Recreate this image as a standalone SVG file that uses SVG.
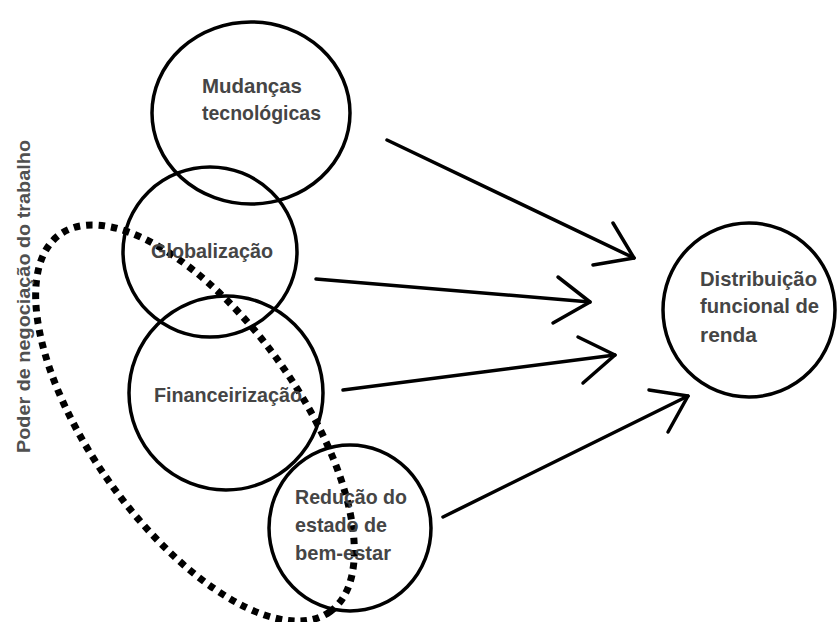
<svg xmlns="http://www.w3.org/2000/svg" width="837" height="622" viewBox="0 0 837 622">
<style>
.n{fill:none;stroke:#000;stroke-width:3.5}
.t{font-family:"Liberation Sans",Arial,sans-serif;font-weight:bold;font-size:21px;fill:#454545}
.c line,.c polyline{stroke:#000;stroke-width:3.5;fill:none;stroke-linecap:round;stroke-linejoin:round}
.dot{fill:none;stroke:#000;stroke-width:7;stroke-dasharray:6.5 6}
</style>
<rect width="837" height="622" fill="#fff"/>
<g id="bargaining">
<ellipse class="dot" cx="195" cy="423" rx="232" ry="104" transform="rotate(54.4 195 423)"/>
<text class="t" transform="translate(30 453) rotate(-90)" textLength="313" lengthAdjust="spacingAndGlyphs" style="font-size:19px;fill:#505050">Poder de negociação do trabalho</text>
</g>
<g id="mudancas">
<ellipse class="n" cx="251" cy="113" rx="99" ry="91"/>
<text class="t" x="202" y="93" textLength="100" lengthAdjust="spacingAndGlyphs">Mudanças</text>
<text class="t" x="202" y="120" textLength="119" lengthAdjust="spacingAndGlyphs">tecnológicas</text>
</g>
<g id="globalizacao">
<ellipse class="n" cx="210" cy="252" rx="87" ry="85"/>
<text class="t" x="151" y="258" textLength="122" lengthAdjust="spacingAndGlyphs">Globalização</text>
</g>
<g id="financeirizacao">
<ellipse class="n" cx="226" cy="393" rx="97" ry="97"/>
<text class="t" x="154" y="402" textLength="148" lengthAdjust="spacingAndGlyphs">Financeirização</text>
</g>
<g id="reducao">
<ellipse class="n" cx="350" cy="528" rx="81" ry="83"/>
<text class="t" x="295" y="504" textLength="112" lengthAdjust="spacingAndGlyphs">Redução do</text>
<text class="t" x="295" y="532" textLength="92" lengthAdjust="spacingAndGlyphs">estado de</text>
<text class="t" x="295" y="560" textLength="96" lengthAdjust="spacingAndGlyphs">bem-estar</text>
</g>
<g id="distribuicao">
<ellipse class="n" cx="749" cy="310" rx="86" ry="87"/>
<text class="t" x="700" y="286" textLength="117" lengthAdjust="spacingAndGlyphs">Distribuição</text>
<text class="t" x="700" y="313" textLength="119" lengthAdjust="spacingAndGlyphs">funcional de</text>
<text class="t" x="700" y="342" textLength="57" lengthAdjust="spacingAndGlyphs">renda</text>
</g>
<g id="connectors" class="c">
<line x1="387" y1="140" x2="634" y2="258"/>
<polyline points="613,223 634,258 593,265"/>
<line x1="316" y1="279" x2="590" y2="302"/>
<polyline points="558,277 590,302 553,323"/>
<line x1="343" y1="390" x2="615" y2="355"/>
<polyline points="578,337 615,355 583,383"/>
<line x1="443" y1="517" x2="688" y2="396"/>
<polyline points="649,390 688,396 668,432"/>
</g>
</svg>
